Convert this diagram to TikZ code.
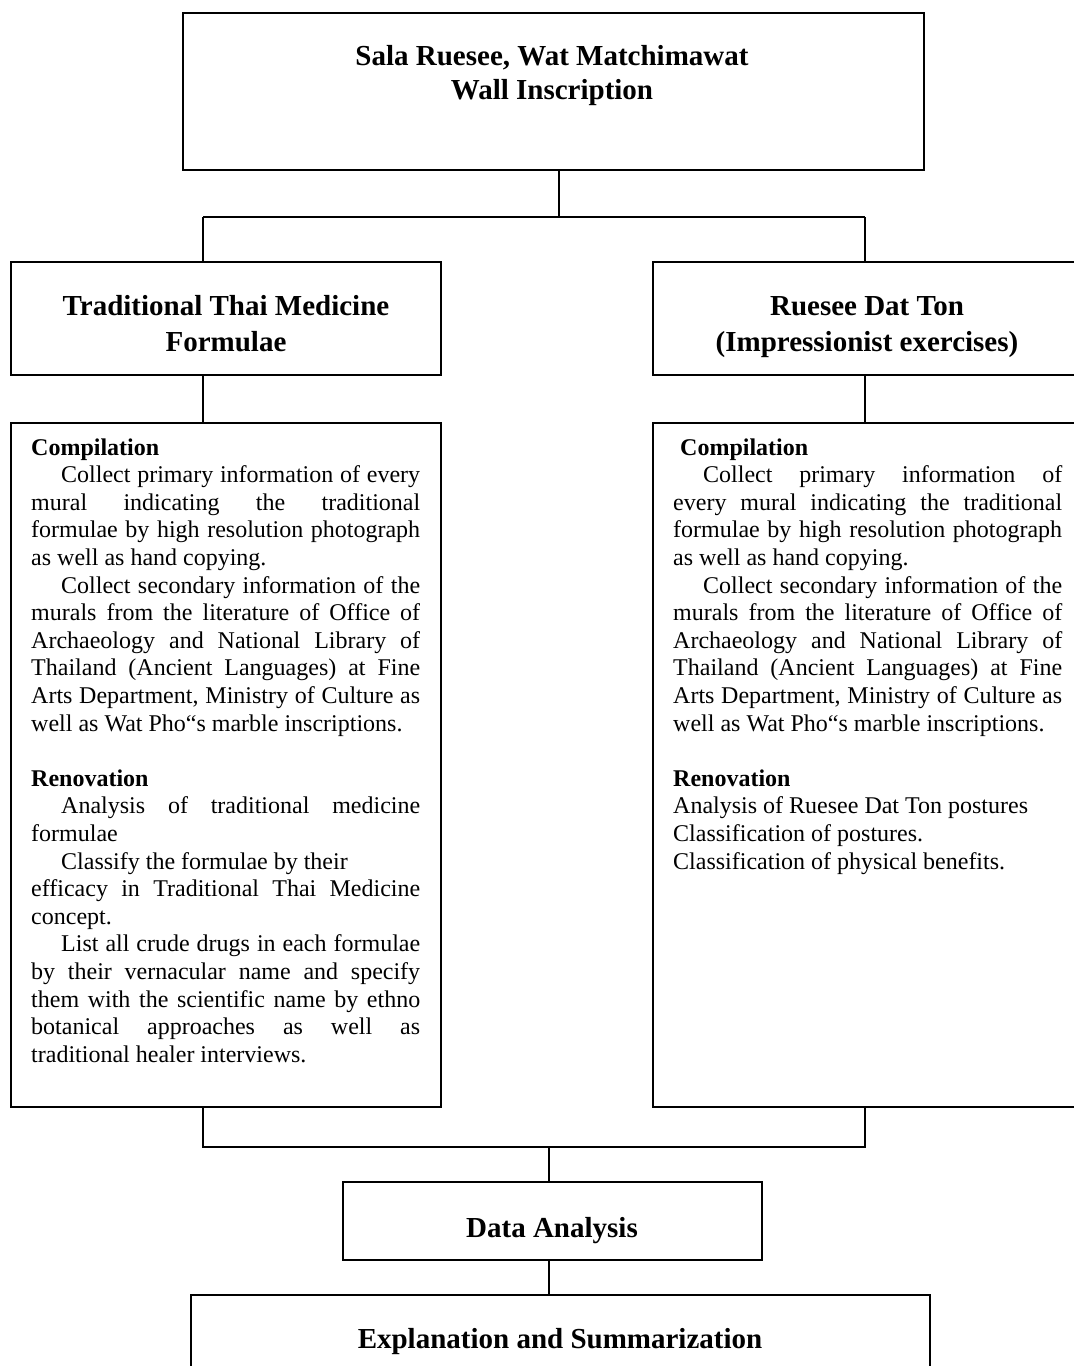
\documentclass[tikz,border=0pt]{standalone}
\usepackage{fontspec}
\setmainfont{Liberation Serif}
\begin{document}
\begin{tikzpicture}[x=1pt,y=-1pt,
  box/.style={draw, line width=1.8pt, inner sep=0pt, anchor=north west},
  conn/.style={draw, line width=1.4pt},
  ttl/.style={font=\fontsize{29}{34}\selectfont\bfseries, align=center, anchor=base, inner sep=0pt},
  ttlm/.style={font=\fontsize{29}{36}\selectfont\bfseries, align=center, anchor=base, inner sep=0pt},
  body/.style={font=\fontsize{24}{27.6}\selectfont, text width=389pt, align=justify, anchor=base west, inner sep=0pt,
    execute at begin node={\hyphenpenalty=10000\tolerance=9999}}]
\useasboundingbox (0,0) rectangle (1074,1366);
\clip (0,0) rectangle (1074,1366);
\fill[white] (0,0) rectangle (1074,1366);

% boxes
\node[box, minimum width=741pt, minimum height=157pt] (top) at (182,12) {};
\node[box, minimum width=430pt, minimum height=113pt] (lmid) at (10,261) {};
\node[box, minimum width=430pt, minimum height=113pt] (rmid) at (652,261) {};
\node[box, minimum width=430pt, minimum height=684pt] (lbig) at (10,422) {};
\node[box, minimum width=430pt, minimum height=684pt] (rbig) at (652,422) {};
\node[box, minimum width=419pt, minimum height=78pt] (data) at (342,1181) {};
\node[box, minimum width=739pt, minimum height=113pt] (expl) at (190,1294) {};

% titles (base anchor = baseline of last line)
\node[ttl] (ttop) at (552,99) {Sala Ruesee, Wat Matchimawat\\Wall Inscription};
\node[ttlm] (tlmid) at (226,351) {Traditional Thai Medicine\\Formulae};
\node[ttlm] (trmid) at (867,351) {Ruesee Dat Ton\\(Impressionist exercises)};
\node[ttl] (tdata) at (552,1237) {Data Analysis};
\node[ttl] (texpl) at (560,1348) {Explanation and Summarization};

% body texts
\node[body] (lbody) at (31,455) {%
{\bfseries Compilation}\par
\hspace*{30pt}Collect primary information of every\linebreak
mural indicating the traditional\linebreak
formulae by high resolution photograph\linebreak
as well as hand copying.\par
\hspace*{30pt}Collect secondary information of the\linebreak
murals from the literature of Office of\linebreak
Archaeology and National Library of\linebreak
Thailand (Ancient Languages) at Fine\linebreak
Arts Department, Ministry of Culture as\linebreak
well as Wat Pho“s marble inscriptions.\par
\vspace{27.6pt}
{\bfseries Renovation}\par
\hspace*{30pt}Analysis of traditional medicine\linebreak
formulae\par
\hspace*{30pt}Classify the formulae by their\\
efficacy in Traditional Thai Medicine\linebreak
concept.\par
\hspace*{30pt}List all crude drugs in each formulae\linebreak
by their vernacular name and specify\linebreak
them with the scientific name by ethno\linebreak
botanical approaches as well as\linebreak
traditional healer interviews.\par};

\node[body] (rbody) at (673,455) {%
\hspace*{7pt}{\bfseries Compilation}\par
\hspace*{30pt}Collect primary information of\linebreak
every mural indicating the traditional\linebreak
formulae by high resolution photograph\linebreak
as well as hand copying.\par
\hspace*{30pt}Collect secondary information of the\linebreak
murals from the literature of Office of\linebreak
Archaeology and National Library of\linebreak
Thailand (Ancient Languages) at Fine\linebreak
Arts Department, Ministry of Culture as\linebreak
well as Wat Pho“s marble inscriptions.\par
\vspace{27.6pt}
{\bfseries Renovation}\par
Analysis of Ruesee Dat Ton postures\par
Classification of postures.\par
Classification of physical benefits.\par};

% connectors
\coordinate (j1) at (559,217);
\coordinate (jl) at (203,217);
\coordinate (jr) at (865,217);
\coordinate (kl) at (203,1147);
\coordinate (kr) at (865,1147);
\coordinate (kc) at (549,1147);

\draw[conn] (top.south -| j1) -- (j1);
\draw[conn] (jl) -- (jr);
\draw[conn] (jl) -- (lmid.north -| jl);
\draw[conn] (jr) -- (rmid.north -| jr);
\draw[conn] (lmid.south -| jl) -- (lbig.north -| jl);
\draw[conn] (rmid.south -| jr) -- (rbig.north -| jr);
\draw[conn] (lbig.south -| kl) -- (kl) -- (kr) -- (rbig.south -| kr);
\draw[conn] (kc) -- (data.north -| kc);
\draw[conn] (data.south -| kc) -- (expl.north -| kc);
\end{tikzpicture}
\end{document}
